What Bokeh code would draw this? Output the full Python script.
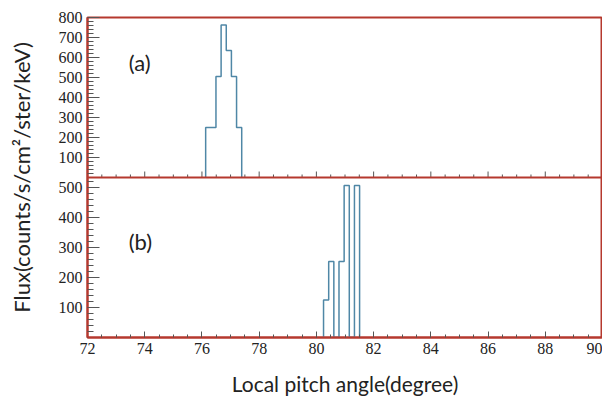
import numpy as np
from bokeh.plotting import figure
from bokeh.models import Range1d, FixedTicker, SingleIntervalTicker, Span, Label
from bokeh.embed import file_html
from bokeh.resources import INLINE

# ---- data ----
top_edges = [76.13, 76.31, 76.49, 76.67, 76.85, 77.03, 77.21, 77.39]
top_counts = [250, 250, 505, 762, 635, 505, 250]
bot_edges = [80.25, 80.43, 80.61, 80.79, 80.97, 81.15, 81.33, 81.51]
bot_counts = [125, 254, 0, 254, 507, 0, 507]
top_yticks = [100, 200, 300, 400, 500, 600, 700, 800]
bot_yticks = [100, 200, 300, 400, 500]
x_ticks = [72, 74, 76, 78, 80, 82, 84, 86, 88, 90]
panel_labels = ["(a)", "(b)"]

TOP_MAX = 800
BOT_MAX = 534

FRAME = "#b5392e"
HIST = "#4f87a6"
TICK = "#555555"
TXT = "#222222"
SERIF = "'Liberation Serif', 'DejaVu Serif', serif"

p = figure(width=602, height=398, output_backend="svg", toolbar_location=None,
           x_range=Range1d(x_ticks[0], x_ticks[-1]),
           y_range=Range1d(-TOP_MAX, TOP_MAX),
           min_border_left=87, min_border_right=0, min_border_top=17,
           min_border_bottom=61)
p.extra_y_ranges = {"b": Range1d(0, 2 * BOT_MAX)}
p.grid.visible = False
p.background_fill_color = "white"
p.border_fill_color = "white"
p.outline_line_color = FRAME
p.outline_line_width = 2
p.outline_line_alpha = 1.0


def to_main(v):
    return round(-TOP_MAX + v * TOP_MAX / BOT_MAX, 6)


# y axis: top panel ticks in main range, bottom panel ticks mapped
major = [float(v) for v in top_yticks] + [to_main(v) for v in bot_yticks]
minor = [float(v) for v in range(20, TOP_MAX, 20)] + [to_main(v) for v in range(20, BOT_MAX, 20)]
overrides = {float(v): str(v) for v in top_yticks}
overrides.update({to_main(v): str(v) for v in bot_yticks})

ya = p.yaxis[0]
ya.ticker = FixedTicker(ticks=major, minor_ticks=minor)
ya.major_label_overrides = overrides
ya.major_tick_in = 12
ya.major_tick_out = 0
ya.minor_tick_in = 6
ya.minor_tick_out = 0
ya.major_tick_line_color = TICK
ya.minor_tick_line_color = TICK
ya.axis_line_color = FRAME
ya.axis_line_width = 2
ya.major_label_text_font = SERIF
ya.major_label_text_font_size = "16px"
ya.major_label_text_color = TXT
ya.major_label_standoff = 5
ya.axis_label = "Flux(counts/s/cm²/ster/keV)"
ya.axis_label_text_font = "Lato"
ya.axis_label_text_font_size = "22px"
ya.axis_label_text_font_style = "normal"
ya.axis_label_text_color = TXT
ya.axis_label_standoff = 21

xa = p.xaxis[0]
xa.ticker = SingleIntervalTicker(interval=2, num_minor_ticks=4)
xa.major_tick_in = 6
xa.major_tick_out = 0
xa.minor_tick_in = 3
xa.minor_tick_out = 0
xa.major_tick_line_color = TICK
xa.minor_tick_line_color = TICK
xa.axis_line_color = FRAME
xa.axis_line_width = 2
xa.major_label_text_font = SERIF
xa.major_label_text_font_size = "16px"
xa.major_label_text_color = TXT
xa.major_label_standoff = 5
xa.axis_label = "Local pitch angle(degree)"
xa.axis_label_text_font = "Lato"
xa.axis_label_text_font_size = "21px"
xa.axis_label_text_font_style = "normal"
xa.axis_label_text_color = TXT
xa.axis_label_standoff = 14

# divider between the panels, with the top panel's x ticks
tick_x = np.arange(x_ticks[0], x_ticks[-1] + 0.001, 0.5)
px_per_unit = 160.0 / TOP_MAX
tick_len = np.where(np.isclose(tick_x % 2, 0), 6 / px_per_unit, 3 / px_per_unit)
p.segment(x0=tick_x, y0=np.zeros_like(tick_x), x1=tick_x, y1=tick_len,
          line_color=TICK, line_width=1)
p.add_layout(Span(location=0, dimension="width", line_color=FRAME, line_width=2))

# histograms
p.step(x=[top_edges[0]] + top_edges, y=[0] + top_counts + [0], mode="after",
       line_color=HIST, line_width=1.5)
p.step(x=[bot_edges[0]] + bot_edges, y=[0] + bot_counts + [0], mode="after",
       line_color=HIST, line_width=1.5, y_range_name="b")

p.add_layout(Label(x=73.44, y=575, text=panel_labels[0], text_font="Lato",
                   text_font_size="22px", text_baseline="middle", text_color=TXT))
p.add_layout(Label(x=73.44, y=321, y_range_name="b", text=panel_labels[1],
                   text_font="Lato", text_font_size="22px", text_baseline="middle",
                   text_color=TXT))

open("out.html", "w").write(file_html(p, INLINE))
